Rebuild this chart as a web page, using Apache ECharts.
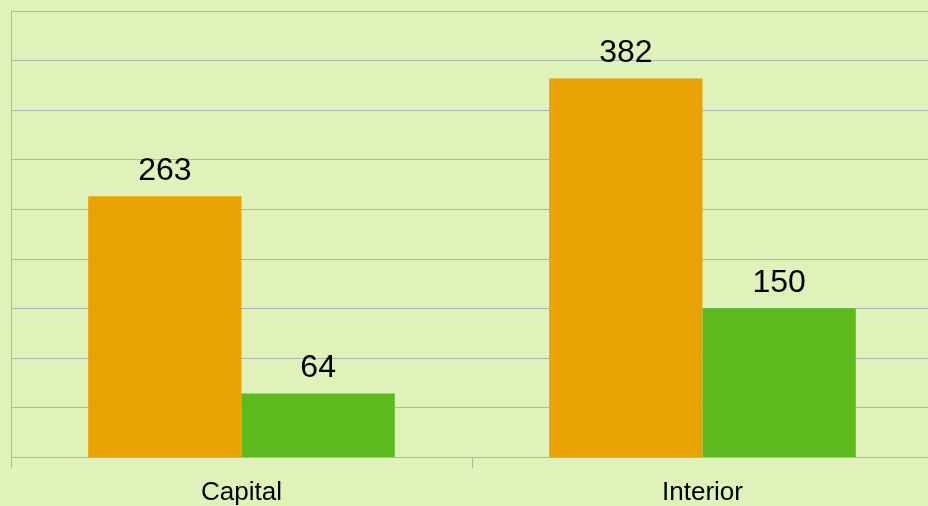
<!DOCTYPE html>
<html>
<head>
<meta charset="utf-8">
<script src="https://cdn.jsdelivr.net/npm/echarts@6/dist/echarts.min.js"></script>
<style>
  html, body { margin: 0; padding: 0; background: #dff2b9; }
  #chart { width: 928px; height: 506px; }
</style>
</head>
<body>
<div id="chart"></div>
<script>
const categories = ['Capital', 'Interior'];
const seriesA = [263, 382];
const seriesB = [64, 150];
const yMax = 450;
const yStep = 50;

const myChart = echarts.init(document.getElementById('chart'));
const option = {
  backgroundColor: '#dff2b9',
  animation: false,
  textStyle: { fontFamily: 'Liberation Sans, Arial, sans-serif' },
  grid: { left: 11, top: 11, right: -5, bottom: 49, outerBoundsMode: 'none', containLabel: false },
  xAxis: {
    type: 'category',
    data: categories,
    axisLine: { lineStyle: { color: '#b3b3b3', width: 1 } },
    axisTick: { show: true, length: 11, lineStyle: { color: '#b3b3b3' } },
    axisLabel: { color: '#000', fontSize: 26, margin: 23 }
  },
  yAxis: {
    type: 'value',
    min: 0,
    max: yMax,
    interval: yStep,
    axisLine: { show: true, lineStyle: { color: '#b3b3b3', width: 1 } },
    axisTick: { show: false },
    axisLabel: { show: false },
    splitLine: { lineStyle: { color: '#b3b3b3', width: 1 } }
  },
  series: [
    {
      type: 'bar',
      data: seriesA,
      barGap: '0%',
      barCategoryGap: '33.5%',
      itemStyle: { color: '#e8a202' },
      label: { show: true, position: 'top', distance: 9, color: '#000', fontSize: 32 }
    },
    {
      type: 'bar',
      data: seriesB,
      itemStyle: { color: '#5eb91e' },
      label: { show: true, position: 'top', distance: 9, color: '#000', fontSize: 32 }
    }
  ]
};
myChart.setOption(option);
</script>
</body>
</html>
